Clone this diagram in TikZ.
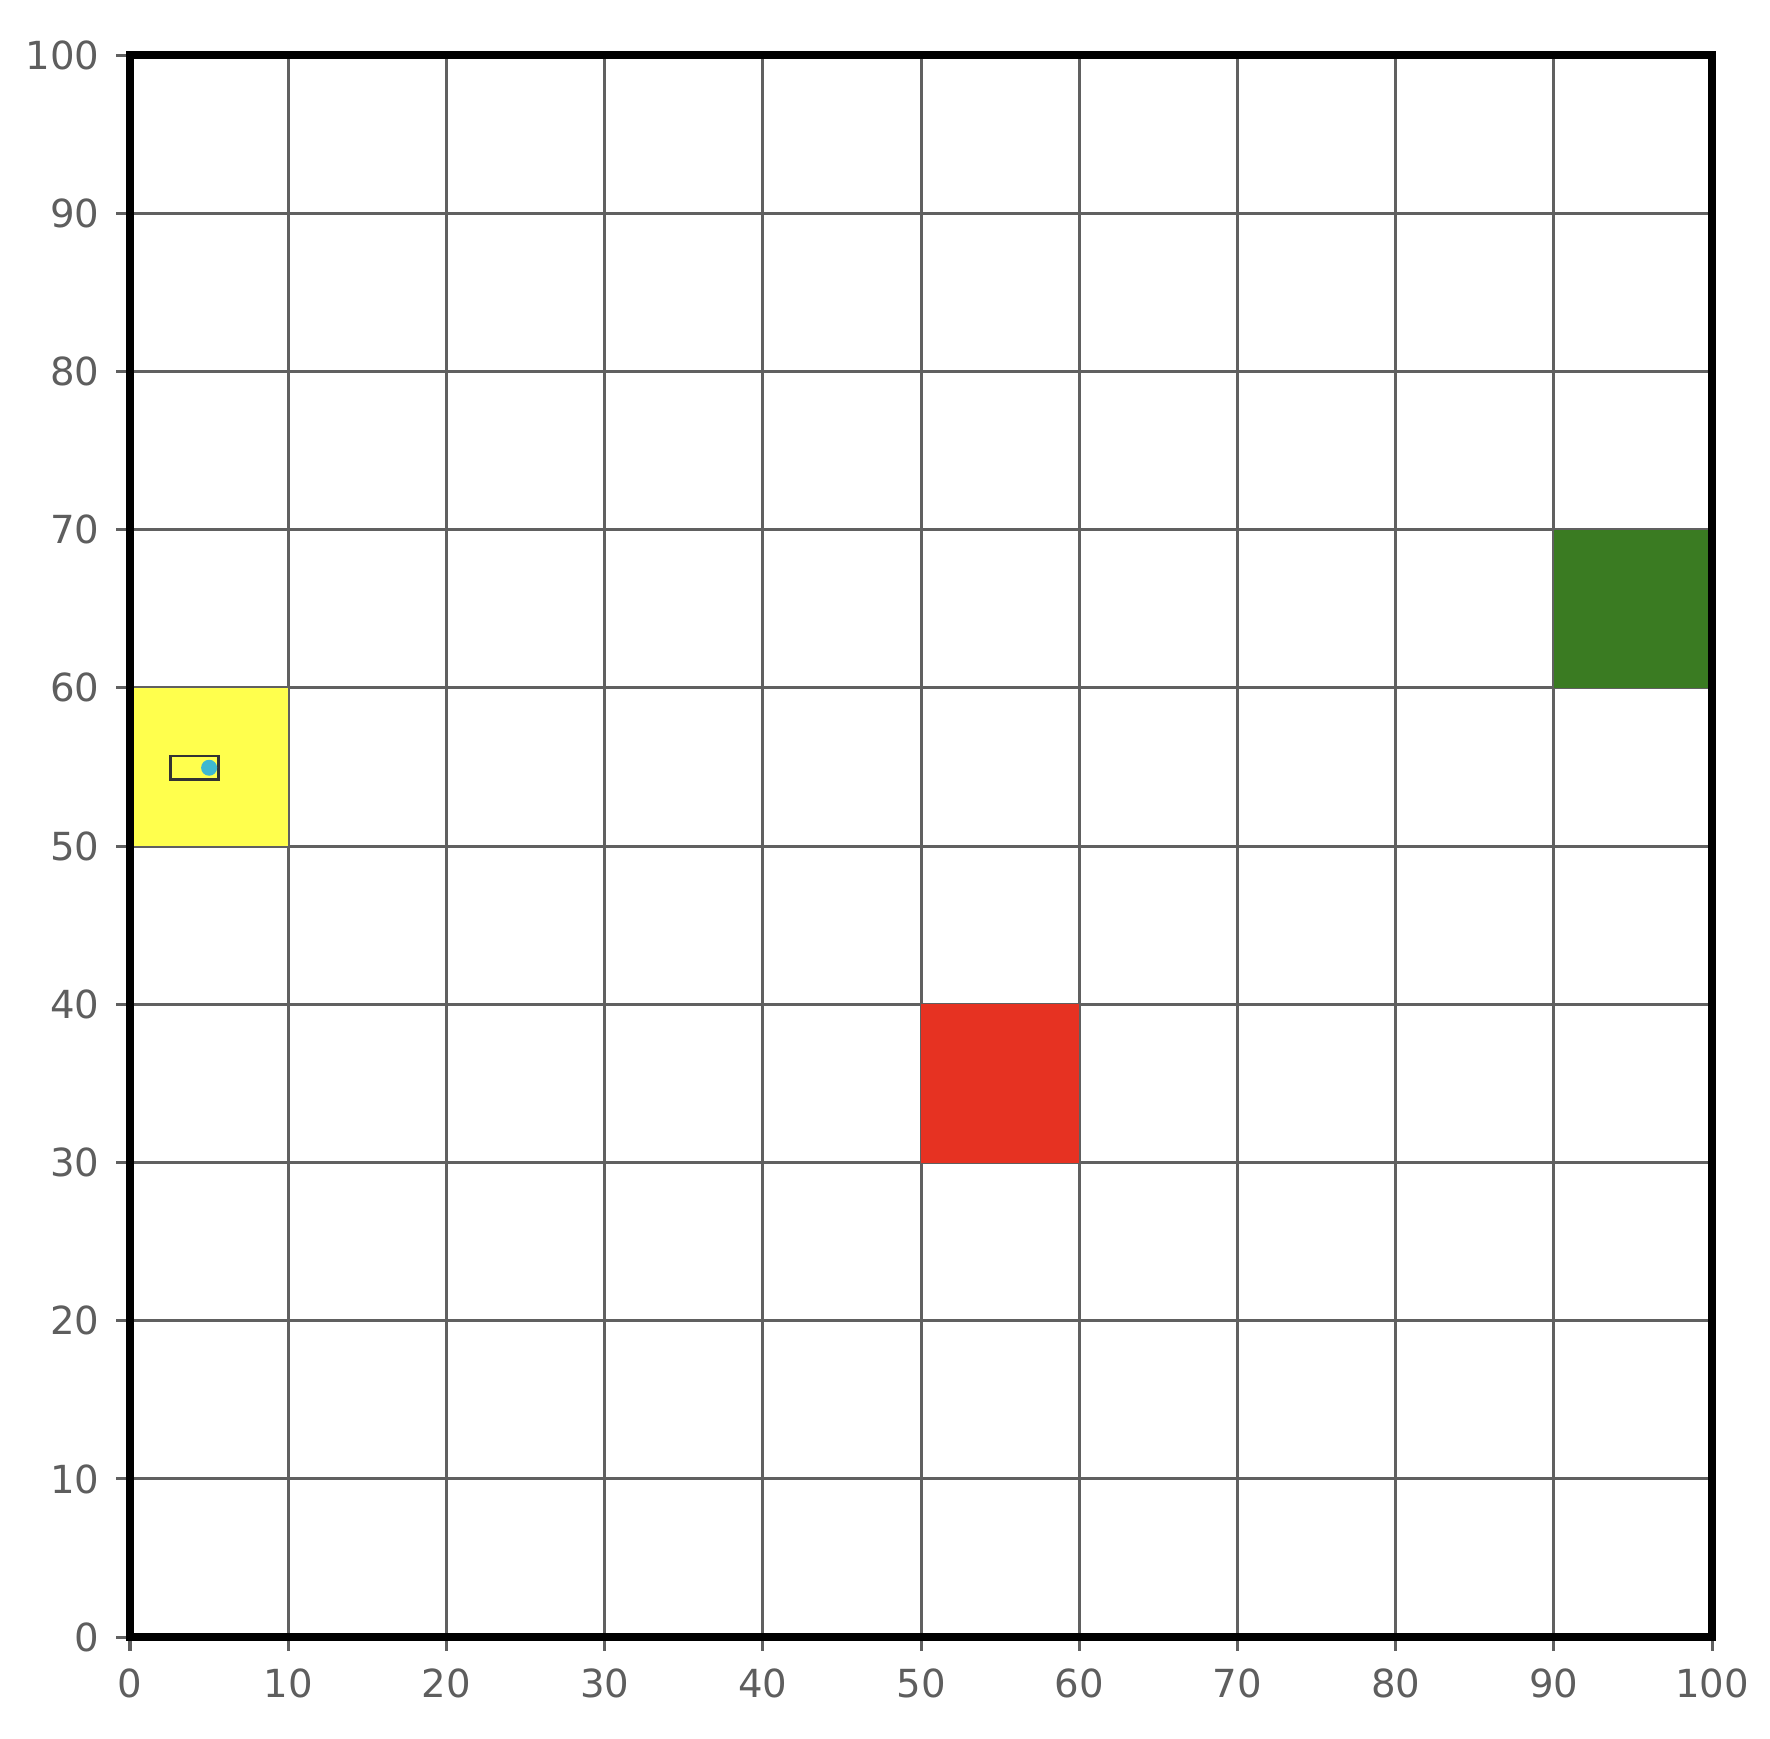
\documentclass[tikz,border=0pt]{standalone}
\usepackage{fontspec}
\setmainfont{DejaVu Sans}
\definecolor{gridc}{HTML}{606060}
\definecolor{labc}{HTML}{5E5E5E}
\definecolor{yel}{HTML}{FFFF4D}
\definecolor{redc}{HTML}{E63222}
\definecolor{grn}{HTML}{3A7B22}
\definecolor{cyanc}{HTML}{3FB8D0}
\tikzset{
  gridline/.style={draw=gridc, line width=0.3mm},
  frameline/.style={draw=black, line width=0.8mm, line cap=rect},
  ticklab/.style={text=labc, font=\fontsize{11}{13}\selectfont, inner sep=0pt},
  tickmark/.style={draw=gridc, line width=0.3mm},
}
\begin{document}
\begin{tikzpicture}[x=1.582mm,y=1.582mm]
\useasboundingbox (-8.217,-6.384) rectangle (103.66,103.48);
\fill[white] (-8.217,-6.384) rectangle (103.66,103.48);
% grid
\foreach \v in {10,20,...,90}{
  \draw[gridline] (\v,0) -- (\v,100);
  \draw[gridline] (0,\v) -- (100,\v);
}
% cells
\fill[yel] (0,50) rectangle (10,60);
\fill[grn] (90,60) rectangle (100,70);
\fill[redc] (50,30) rectangle (60,40);
% vehicle
\node[draw=black!80, line width=0.27mm, minimum width=3.05*1.582mm, minimum height=1.5*1.582mm, inner sep=0pt] (veh) at (4.08,54.95) {};
\fill[cyanc] (5,54.95) circle (0.8mm);
% ticks and labels
\foreach \v in {0,10,...,100}{
  \draw[tickmark] (\v,0) -- (\v,-0.9);
  \draw[tickmark] (0,\v) -- (-0.9,\v);
  \node[ticklab, anchor=center] (xl\v) at (\v,-2.95) {\v};
  \node[ticklab, anchor=east] (yl\v) at (-1.9,\v) {\v};
}
% frame
\draw[frameline] (0,0) rectangle (100,100);
\end{tikzpicture}
\end{document}
